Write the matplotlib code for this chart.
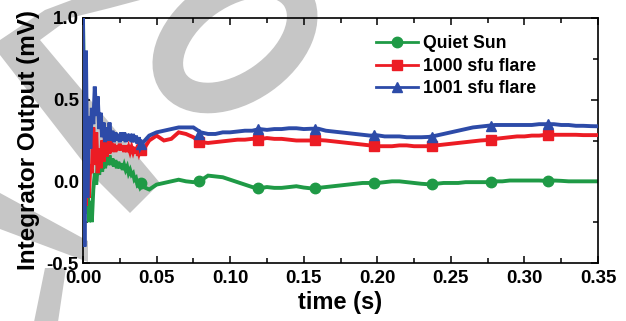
"""plot.py

Integrator output vs time for quiet sun and two flare levels."""

import numpy as np
import matplotlib
matplotlib.use("Agg")
import matplotlib.pyplot as plt
from matplotlib.lines import Line2D
from matplotlib.patches import Polygon, Ellipse
from matplotlib.transforms import Affine2D
from matplotlib.ticker import MultipleLocator, FormatStrFormatter

# time axis: 1 ms steps for the first 40 ms, then 5 ms steps
t_early = np.round(np.arange(0, 0.0405, 0.001), 3)
t_late = np.round(np.arange(0.045, 0.3505, 0.005), 3)
time = np.concatenate([t_early, t_late])

quiet_early = [1.0, 0.3, -0.2, 0.05, -0.25, -0.12, -0.25, -0.05, 0.05, -0.02,
               0.1, 0.04, 0.12, 0.06, 0.13, 0.08, 0.15, 0.1, 0.16, 0.1,
               0.14, 0.09, 0.13, 0.08, 0.12, 0.08, 0.11, 0.07, 0.1, 0.07,
               0.09, 0.05, 0.07, 0.04, 0.05, 0.01, 0.02, -0.02, -0.01, -0.04,
               -0.03]
quiet_late = [-0.05, -0.02, -0.01, 0.0, 0.01, 0.0, -0.005, 0.005, 0.035, 0.03,
              0.025, 0.01, -0.005, -0.02, -0.035, -0.042, -0.035, -0.04, -0.04, -0.035,
              -0.03, -0.038, -0.043, -0.04, -0.035, -0.03, -0.025, -0.02, -0.015, -0.01,
              -0.01, -0.01, -0.005, 0.0, 0.0, -0.005, -0.01, -0.015, -0.018, -0.015,
              -0.01, -0.01, -0.01, -0.005, -0.005, -0.005, -0.005, 0.0, 0.0, 0.005,
              0.005, 0.005, 0.005, 0.005, 0.003, 0.005, 0.003, 0.0, 0.0, 0.0,
              0.0, 0.0]

flare1000_early = [0.3, 0.1, -0.15, 0.15, -0.1, 0.1, 0.05, 0.33, 0.1, 0.3,
                   0.05, 0.2, 0.08, 0.25, 0.12, 0.3, 0.15, 0.27, 0.17, 0.25,
                   0.18, 0.23, 0.18, 0.22, 0.19, 0.23, 0.19, 0.22, 0.18, 0.22,
                   0.18, 0.21, 0.18, 0.21, 0.18, 0.21, 0.17, 0.2, 0.17, 0.2,
                   0.18]
flare1000_late = [0.25, 0.28, 0.25, 0.26, 0.3, 0.29, 0.27, 0.24, 0.235, 0.24,
                  0.245, 0.25, 0.255, 0.255, 0.26, 0.258, 0.265, 0.26, 0.26, 0.255,
                  0.25, 0.25, 0.25, 0.253, 0.25, 0.245, 0.24, 0.235, 0.23, 0.225,
                  0.22, 0.215, 0.215, 0.215, 0.22, 0.22, 0.215, 0.215, 0.215, 0.22,
                  0.225, 0.23, 0.235, 0.24, 0.245, 0.25, 0.253, 0.26, 0.265, 0.27,
                  0.275, 0.275, 0.28, 0.28, 0.285, 0.285, 0.285, 0.285, 0.285, 0.283,
                  0.283, 0.283]

flare1001_early = [1.0, -0.4, 0.8, -0.1, 0.4, 0.2, 0.45, 0.35, 0.58, 0.4,
                   0.52, 0.32, 0.42, 0.27, 0.36, 0.24, 0.33, 0.25, 0.36, 0.25,
                   0.31, 0.24, 0.3, 0.25, 0.29, 0.24, 0.3, 0.25, 0.3, 0.24,
                   0.29, 0.25, 0.29, 0.24, 0.29, 0.24, 0.28, 0.23, 0.27, 0.21,
                   0.23]
flare1001_late = [0.28, 0.3, 0.31, 0.32, 0.33, 0.33, 0.33, 0.3, 0.29, 0.29,
                  0.3, 0.3, 0.305, 0.31, 0.31, 0.32, 0.315, 0.32, 0.32, 0.325,
                  0.325, 0.32, 0.322, 0.322, 0.31, 0.305, 0.3, 0.295, 0.29, 0.285,
                  0.28, 0.282, 0.275, 0.275, 0.275, 0.27, 0.27, 0.27, 0.272, 0.28,
                  0.29, 0.3, 0.31, 0.32, 0.33, 0.335, 0.34, 0.345, 0.345, 0.345,
                  0.345, 0.345, 0.345, 0.35, 0.35, 0.35, 0.345, 0.345, 0.34, 0.34,
                  0.338, 0.337]

# symbol positions along each trace
marker_t = [0.0395, 0.079, 0.119, 0.158, 0.198, 0.237, 0.277, 0.316]
quiet_marks = [-0.01, 0.0, -0.043, -0.043, -0.012, -0.018, -0.006, 0.002]
flare1000_marks = [0.19, 0.24, 0.256, 0.252, 0.217, 0.215, 0.252, 0.285]
flare1001_marks = [0.23, 0.29, 0.323, 0.323, 0.283, 0.272, 0.34, 0.35]

labels = ["Quiet Sun", "1000 sfu flare", "1001 sfu flare"]
colors = ["#1f9a46", "#ec1c24", "#2d4ba8"]
symbols = ["o", "s", "^"]

plt.rcParams["font.family"] = ["Liberation Sans", "DejaVu Sans"]
plt.rcParams["font.weight"] = "bold"

W, H = 626, 321
fig = plt.figure(figsize=(W / 100, H / 100), dpi=100)
fig.patch.set_facecolor("white")

# grey watermark strokes behind everything (coords in image pixels)
px = Affine2D().scale(1 / W, -1 / H).translate(0, 1) + fig.transFigure
wm = "#c6c6c6"
fig.add_artist(Polygon([(0, 55), (97, 180), (130, 213), (160, 183), (40, 40),
                        (70, 18), (110, 8), (140, 0), (140, -2), (77, -2),
                        (45, 10), (15, 30), (0, 40)],
                       closed=True, fc=wm, ec="none", transform=px, zorder=-5))
fig.add_artist(Polygon([(0, 193), (88, 241), (88, 262), (0, 229)],
                       closed=True, fc=wm, ec="none", transform=px, zorder=-5))
fig.add_artist(Polygon([(45, 268), (66, 268), (58, 322), (34, 322)],
                       closed=True, fc=wm, ec="none", transform=px, zorder=-5))
fig.add_artist(Ellipse((235, 40), 150, 95, angle=-35, fill=False, ec=wm,
                       lw=22, transform=px, zorder=-5))

ax = fig.add_axes([83 / W, 58 / H, 515 / W, 245 / H])
ax.set_facecolor("none")

series = [
    (quiet_early + quiet_late, quiet_marks),
    (flare1000_early + flare1000_late, flare1000_marks),
    (flare1001_early + flare1001_late, flare1001_marks),
]

# red first, then green, then blue on top
for i in [1, 0, 2]:
    vals, marks = series[i]
    ax.plot(time, vals, color=colors[i], lw=2.8, solid_joinstyle="miter",
            zorder=2 + i)
    ax.plot(marker_t, marks, ls="none", marker=symbols[i], ms=7.5,
            color=colors[i], zorder=2 + i)

ax.set_xlim(0, 0.35)
ax.set_ylim(-0.5, 1.0)
ax.xaxis.set_major_locator(MultipleLocator(0.05))
ax.xaxis.set_minor_locator(MultipleLocator(0.025))
ax.yaxis.set_major_locator(MultipleLocator(0.5))
ax.yaxis.set_minor_locator(MultipleLocator(0.25))
ax.xaxis.set_major_formatter(FormatStrFormatter("%.2f"))
ax.yaxis.set_major_formatter(FormatStrFormatter("%.1f"))

ax.tick_params(which="both", direction="in", top=True, right=True,
               width=1.1, labelsize=13.5)
ax.tick_params(axis="x", which="both", pad=5)
ax.tick_params(axis="y", which="both", pad=3)
ax.tick_params(which="major", length=5)
ax.tick_params(which="minor", length=3.5)
for s in ax.spines.values():
    s.set_linewidth(1.2)

ax.set_xlabel("time (s)", fontsize=17, fontweight="bold", labelpad=3)
ax.set_ylabel("Integrator Output (mV)", fontsize=17.5, fontweight="bold",
              labelpad=5)

handles = [Line2D([], [], color=colors[i], lw=2, marker=symbols[i], ms=7.5)
           for i in range(3)]
ax.legend(handles, labels, loc="upper left", bbox_to_anchor=(0.569, 0.93),
          frameon=False, handlelength=2.4, handletextpad=0.25,
          labelspacing=0.32, borderpad=0, borderaxespad=0,
          prop={"weight": "bold", "size": 12.7})

fig.savefig("out.png", dpi=100)
